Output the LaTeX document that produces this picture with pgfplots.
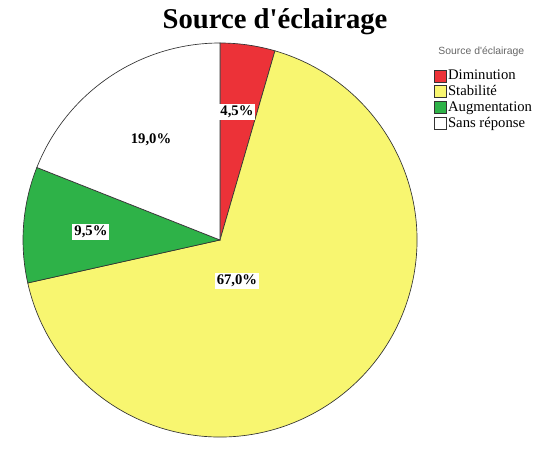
\documentclass[border=0pt]{standalone}
\usepackage{pgfplots}
\pgfplotsset{compat=1.18}
\usepackage{pgfplotstable}
\usepackage{fontspec}
\setmainfont{Liberation Serif}
\newfontfamily\legsans{Liberation Sans}
\definecolor{pieRed}{RGB}{236,50,56}
\definecolor{pieYellow}{RGB}{248,246,112}
\definecolor{pieGreen}{RGB}{46,178,72}
\pgfplotstableread{
label value
Diminution 4.5
Stabilite 67.0
Augmentation 9.5
Sansreponse 19.0
}\pietable
\pgfplotstablegetelem{0}{value}\of\pietable \let\vA\pgfplotsretval
\pgfplotstablegetelem{1}{value}\of\pietable \let\vB\pgfplotsretval
\pgfplotstablegetelem{2}{value}\of\pietable \let\vC\pgfplotsretval
\pgfplotstablegetelem{3}{value}\of\pietable \let\vD\pgfplotsretval
\pgfmathsetmacro\aA{90}
\pgfmathsetmacro\aB{\aA-3.6*\vA}
\pgfmathsetmacro\aC{\aB-3.6*\vB}
\pgfmathsetmacro\aD{\aC-3.6*\vC}
\pgfmathsetmacro\aE{\aD-3.6*\vD}
\def\R{147.75pt}
\begin{document}
\begin{tikzpicture}
\path (0pt,0pt) rectangle (411pt,330.75pt);
\node[font=\bfseries\fontsize{21.5}{24}\selectfont, anchor=center] at (206.25pt,314.25pt) {Source d\textquotesingle éclairage};
\node[font=\legsans\fontsize{7.8}{9}\selectfont, text=gray!80!black, anchor=center] at (361pt,291.75pt) {Source d\textquotesingle éclairage};
\begin{axis}[
  at={(165pt,150.75pt)}, anchor=center,
  scale only axis, width=295.5pt, height=295.5pt,
  xmin=-1, xmax=1, ymin=-1, ymax=1,
  hide axis, clip=false,
  legend style={at={(1.043,0.935)}, anchor=north west, draw=none, fill=none,
    font=\fontsize{11}{12}\selectfont, inner sep=0pt, row sep=0.8pt,
    nodes={inner sep=1pt}},
  legend cell align=left,
  legend image code/.code={\draw[#1] (0pt,-4.5pt) rectangle (9pt,4.5pt);},
]
\fill[pieRed, draw=black!80, line width=0.5pt] (axis cs:0,0) -- (axis cs:{cos(\aA)},{sin(\aA)}) arc[start angle=\aA, end angle=\aB, radius=\R] -- cycle;
\fill[pieYellow, draw=black!80, line width=0.5pt] (axis cs:0,0) -- (axis cs:{cos(\aB)},{sin(\aB)}) arc[start angle=\aB, end angle=\aC, radius=\R] -- cycle;
\fill[pieGreen, draw=black!80, line width=0.5pt] (axis cs:0,0) -- (axis cs:{cos(\aC)},{sin(\aC)}) arc[start angle=\aC, end angle=\aD, radius=\R] -- cycle;
\fill[white, draw=black!80, line width=0.5pt] (axis cs:0,0) -- (axis cs:{cos(\aD)},{sin(\aD)}) arc[start angle=\aD, end angle=\aE, radius=\R] -- cycle;
\node[fill=white, inner sep=1.5pt, font=\bfseries\fontsize{11}{12}\selectfont] at (axis cs:0.086,0.650) {4,5\%};
\node[fill=white, inner sep=1.5pt, font=\bfseries\fontsize{11}{12}\selectfont] at (axis cs:0.086,-0.208) {67,0\%};
\node[fill=white, inner sep=1.5pt, font=\bfseries\fontsize{11}{12}\selectfont] at (axis cs:-0.655,0.041) {9,5\%};
\node[fill=white, inner sep=1.5pt, font=\bfseries\fontsize{11}{12}\selectfont] at (axis cs:-0.350,0.508) {19,0\%};
\addlegendimage{fill=pieRed, draw=black!80}
\addlegendimage{fill=pieYellow, draw=black!80}
\addlegendimage{fill=pieGreen, draw=black!80}
\addlegendimage{fill=white, draw=black!80}
\legend{Diminution, Stabilité, Augmentation, Sans réponse}
\end{axis}
\end{tikzpicture}
\end{document}
